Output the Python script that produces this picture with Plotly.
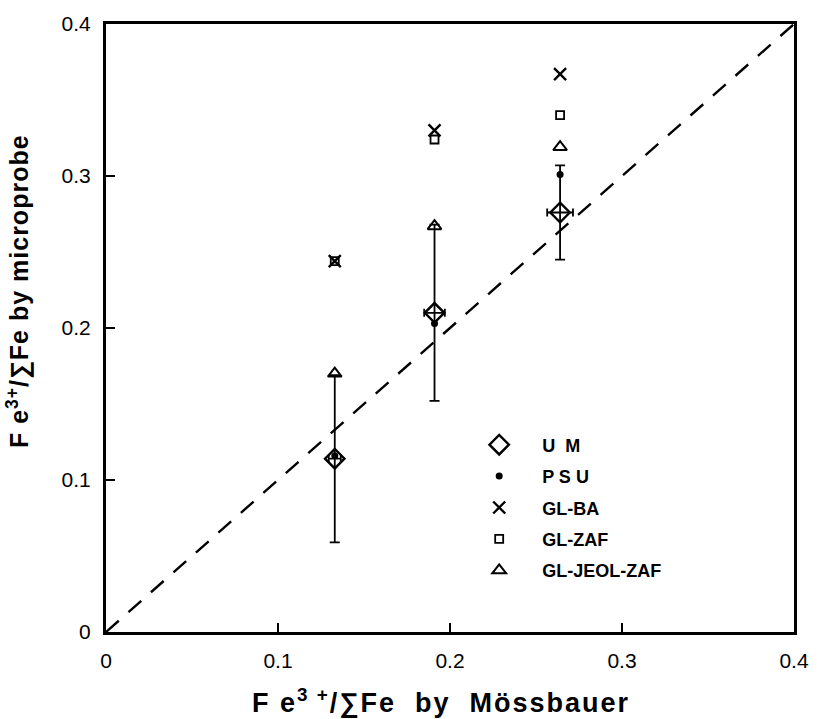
import plotly.graph_objects as go

# Mössbauer Fe3+/ΣFe (x) for the three samples
moss = [0.133, 0.191, 0.264]
moss_err = [0.0035, 0.006, 0.0075]

# Microprobe Fe3+/ΣFe (y) by method
um = [0.114, 0.210, 0.276]
um_err = [0.055, 0.058, 0.031]
psu = [0.116, 0.203, 0.301]
gl_ba = [0.244, 0.330, 0.367]
gl_zaf = [0.244, 0.324, 0.340]
gl_jeol_zaf = [0.170, 0.267, 0.319]

line_x = [0, 0.4]
line_y = [0, 0.4]

font_family = "Liberation Sans, Arial, sans-serif"

fig = go.Figure()

fig.add_trace(go.Scatter(x=line_x, y=line_y, mode="lines",
                         line=dict(color="black", width=2.4, dash="17px,13px"),
                         showlegend=False, hoverinfo="skip"))

fig.add_trace(go.Scatter(
    x=moss, y=um, mode="markers", name="U  M", legendgroup="a",
    marker=dict(symbol="diamond-open", size=15, color="black", line=dict(width=2.4, color="black")),
    error_y=dict(type="data", array=um_err, color="black", thickness=1.8, width=5),
    error_x=dict(type="data", array=moss_err, color="black", thickness=1.8, width=4),
))
fig.add_trace(go.Scatter(
    x=moss, y=psu, mode="markers", name="P S U", legendgroup="b",
    marker=dict(symbol="circle", size=7, color="black"),
))
fig.add_trace(go.Scatter(
    x=moss, y=gl_ba, mode="markers", name="GL-BA", legendgroup="c",
    marker=dict(symbol="x-thin-open", size=12, color="black", line=dict(width=2.4, color="black")),
))
fig.add_trace(go.Scatter(
    x=moss, y=gl_zaf, mode="markers", name="GL-ZAF", legendgroup="d",
    marker=dict(symbol="square-open", size=8, color="black", line=dict(width=1.8, color="black")),
))
fig.add_trace(go.Scatter(
    x=moss, y=gl_jeol_zaf, mode="markers", name="GL-JEOL-ZAF", legendgroup="e",
    marker=dict(symbol="triangle-up-open", size=12, color="black", line=dict(width=2, color="black")),
))

axis_common = dict(
    range=[0, 0.4], tickvals=[0, 0.1, 0.2, 0.3, 0.4],
    ticktext=["0", "0.1", "0.2", "0.3", "0.4"],
    ticks="inside", ticklen=9, tickwidth=2.2, tickcolor="black",
    showline=True, linewidth=3, linecolor="black", mirror=True,
    showgrid=False, zeroline=False,
    tickfont=dict(family=font_family, size=21, color="black"),
)

fig.update_layout(
    width=821, height=719,
    margin=dict(l=106, r=21, t=22, b=87),
    paper_bgcolor="white", plot_bgcolor="white",
    xaxis=dict(**axis_common, ticklabelstandoff=8),
    yaxis=dict(**axis_common, ticklabelstandoff=8),
    legend=dict(x=0.509, y=0.338, xanchor="left", yanchor="top",
                font=dict(family=font_family, size=18, color="black", weight="bold"),
                bgcolor="rgba(0,0,0,0)", tracegroupgap=5, itemwidth=76),
    showlegend=True,
    annotations=[
        dict(text="<b>F e<sup>3 +</sup>/∑Fe  by  Mössbauer</b>",
             xref="paper", yref="paper", x=0.488, y=-0.113,
             xanchor="center", yanchor="middle", showarrow=False,
             font=dict(family=font_family, size=27, color="black")),
        dict(text="<b>F e<sup>3</sup><sup>+</sup>/∑Fe by microprobe</b>",
             xref="paper", yref="paper", x=-0.127, y=0.561, textangle=-90,
             xanchor="center", yanchor="middle", showarrow=False,
             font=dict(family=font_family, size=25, color="black")),
    ],
)

post = """
document.body.style.margin='0';
var anns = document.querySelectorAll('.annotation-text');
if (anns.length > 0) { anns[0].style.letterSpacing = '2px'; }
if (anns.length > 1) { anns[1].style.letterSpacing = '1px'; }
"""

fig.write_html("out.html", config={"displayModeBar": False}, post_script=post)
